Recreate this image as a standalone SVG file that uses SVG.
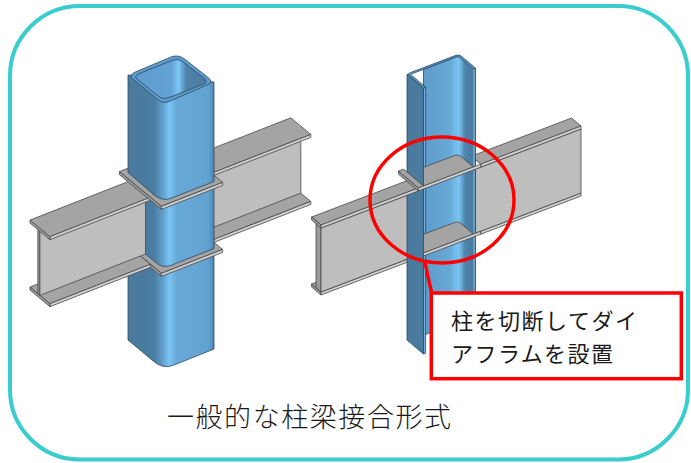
<svg xmlns="http://www.w3.org/2000/svg" width="691" height="463" viewBox="0 0 691 463">
  <defs>
    <!-- shading across the square tube: dark left face, lit rounded corner, mid front face -->
    <linearGradient id="tubeL" gradientUnits="userSpaceOnUse" x1="128" y1="0" x2="214" y2="0">
      <stop offset="0" stop-color="#4a7a9e"/>
      <stop offset="0.3" stop-color="#4b7ca1"/>
      <stop offset="0.4" stop-color="#5f9ecb"/>
      <stop offset="0.48" stop-color="#7ac4f3"/>
      <stop offset="0.57" stop-color="#67a9d8"/>
      <stop offset="0.93" stop-color="#63a3d1"/>
      <stop offset="1" stop-color="#4e86b0"/>
    </linearGradient>
    <linearGradient id="boreL" gradientUnits="userSpaceOnUse" x1="133" y1="0" x2="209" y2="0">
      <stop offset="0" stop-color="#5d9bcb"/>
      <stop offset="0.5" stop-color="#63a3d3"/>
      <stop offset="0.6" stop-color="#7dc8f5"/>
      <stop offset="0.7" stop-color="#4e82aa"/>
      <stop offset="1" stop-color="#4a7a9e"/>
    </linearGradient>
    <linearGradient id="boreR" gradientUnits="userSpaceOnUse" x1="423.5" y1="0" x2="475.5" y2="0">
      <stop offset="0" stop-color="#5f9dcb"/>
      <stop offset="0.5" stop-color="#66a8d6"/>
      <stop offset="0.68" stop-color="#7bc6f4"/>
      <stop offset="0.8" stop-color="#4f84ac"/>
      <stop offset="0.955" stop-color="#4a7a9e"/>
      <stop offset="0.965" stop-color="#74b0da"/>
      <stop offset="1" stop-color="#5b93be"/>
    </linearGradient>
  </defs>
  <style>
    .o{stroke:#464646;stroke-width:0.8;stroke-linejoin:round}
    .tf{fill:#a4a4a4}
    .ed{fill:#d0d0d0}
    .en{fill:#9c9c9c}
    .wb{fill:#bebebe}
    .st{stroke:#2b465e;stroke-width:0.8;stroke-linejoin:round}
    .tube{fill:url(#tubeL)}
    .rim{fill:#5e9ccb}
    .dk{fill:#4a7a9e}
    .cutb{fill:#78b2dc}
    .red{fill:none;stroke:#ff0000;stroke-width:3.5}
    .cap{font-family:"Noto Sans CJK JP","Noto Sans CJK SC",sans-serif;fill:#1a1a1a}
  </style>

  <rect id="frame" x="10" y="6" width="678" height="453.5" rx="70" ry="70" fill="#ffffff" stroke="#3accce" stroke-width="4"/>

  <!-- ordinary joint: square tube column with through diaphragms -->
  <g id="joint-general">
    <!-- far side beam pieces -->
    <polygon class="tf o" points="191.6,223.7 290.8,184.8 310.8,201.4 211.6,240.3"/>
    <polygon class="ed o" points="211.6,240.3 310.8,201.4 310.8,204.4 211.6,243.3"/>
    <polygon class="wb o" points="196.5,170 300.8,129.1 300.8,193.1 196.5,234"/>
    <polygon class="tf o" points="191.6,156.7 290.8,117.8 310.8,134.4 211.6,173.3"/>
    <polygon class="ed o" points="211.6,173.3 310.8,134.4 310.8,137.4 211.6,176.3"/>
    <!-- lower column piece -->
    <path class="tube st" d="M128,242.5 L179,222 L214,251.5 L214,349 L174,365 Q163,370 152,360 L128,340 Z"/>
    <!-- lower diaphragm -->
    <polygon class="tf o" points="119.4,238.6 180.6,214.6 222.6,249.4 161.4,273.4"/>
    <polygon class="en o" points="119.4,238.6 161.4,273.4 161.4,276.4 119.4,241.6"/>
    <polygon class="ed o" points="161.4,273.4 222.6,249.4 222.6,252.4 161.4,276.4"/>
    <!-- column piece between diaphragms -->
    <path class="tube st" d="M128,172 L179,152 L214,181 L214,248.5 L171.2,265.3 Q163,268.5 156,262.7 L128,239.5 Z"/>
    <!-- near side beam pieces -->
    <polygon class="tf o" points="30,287.1 130.4,247.7 150.4,264.3 49.9,303.7"/>
    <polygon class="ed o" points="49.9,303.7 150.4,264.3 150.4,267.3 49.9,306.7"/>
    <polygon class="en o" points="30,287.1 49.9,303.7 49.9,306.7 30,290.1"/>
    <polygon class="en o" points="37.8,229.6 39.9,231.4 39.9,295.4 37.8,293.6"/>
    <polygon class="wb o" points="39.9,231.4 145.5,190 145.5,254 39.9,295.4"/>
    <polygon class="tf o" points="30,220.1 130.4,180.7 150.4,197.3 49.9,236.7"/>
    <polygon class="ed o" points="49.9,236.7 150.4,197.3 150.4,200.3 49.9,239.7"/>
    <polygon class="en o" points="30,220.1 49.9,236.7 49.9,239.7 30,223.1"/>
    <!-- upper diaphragm -->
    <polygon class="tf o" points="119.4,171.6 180.6,147.6 222.6,182.4 161.4,206.4"/>
    <polygon class="en o" points="119.4,171.6 161.4,206.4 161.4,209.4 119.4,174.6"/>
    <polygon class="ed o" points="161.4,206.4 222.6,182.4 222.6,185.4 161.4,209.4"/>
    <!-- upper column piece and open top -->
    <path class="tube st" d="M128,75 L128,172.5 L155,195.7 Q163,201.5 171,198.3 L214,181.5 L214,82 Z"/>
    <path class="rim st" d="M135.5,71.9 L170.5,57.2 Q178,54 184.5,59 L207.5,77 Q214,82 207.9,84.6 L169.1,101.4 Q163,104 157.8,99.7 L133.3,79.4 Q128,75 135.5,71.9 Z"/>
    <path fill="url(#boreL)" class="st" d="M139.8,73.3 L171.3,60.7 Q178,58 183.6,62.3 L203.4,77.7 Q209,82 203.5,84.2 L168.5,97.8 Q163,100 158.5,96.4 L137.5,79.6 Q133,76 139.8,73.3 Z"/>
  </g>

  <!-- cut-away joint: column cut open to show the diaphragms -->
  <g id="joint-cutaway">
    <!-- far side beam pieces -->
    <polygon class="ed o" points="480.7,231.2 581,193 581,196 480.7,234.2"/>
    <polygon class="wb o" points="475.5,169.2 581,129 581,193 475.5,233.2"/>
    <polygon class="tf o" points="471.3,156.2 571.6,118 581,126 480.7,164.2"/>
    <polygon class="ed o" points="480.7,164.2 581,126 581,129 480.7,167.2"/>
    <!-- near side beam: lower flange and web -->
    <polygon class="en o" points="311.6,284 321,292 321,295 311.6,287"/>
    <polygon class="tf o" points="311.6,284 408.9,247 418.3,255 321,292"/>
    <polygon class="ed o" points="321,292 418.3,255 418.3,258 321,295"/>
    <polygon class="en o" points="316,223.8 321,228 321,292 316,287.8"/>
    <polygon class="wb o" points="321,228 423.5,189 423.5,253 321,292"/>
    <!-- column shell -->
    <polygon fill="url(#boreR)" class="st" points="423.5,69.3 458.2,56.1 475.5,68.2 475.5,336.2 473.4,337 458.2,322.1 423.5,335.3"/>
    <polygon class="dk st" points="407,74 423.5,88 423.5,354 407,340"/>
    <polygon class="cutb st" points="423.5,88 425.6,87.2 425.6,353.2 423.5,354"/>
    <path class="rim st" d="M423.5,88 L409,75.5 Q407,74 409.5,73 L456,55.3 Q459,54.2 461.5,56.3 L475.5,68.2 L473.4,69 L460.2,57.8 Q458.2,56.1 455.9,57 L412.4,73.6 Q410.4,74.3 412,75.7 L425.6,87.2 Z"/>
    <!-- diaphragms inside the column -->
    <path class="tf o" d="M423.5,167.3 L455,155.4 Q458.2,154.1 461,156.5 L473.4,167 L423.5,186 Z"/>
    <path class="tf o" d="M423.5,234.3 L455,222.4 Q458.2,221.1 461,223.5 L473.4,234 L423.5,253 Z"/>
    <polygon class="ed o" points="423.5,253 480.7,231.2 480.7,234.2 423.5,256"/>
    <!-- near side beam: upper flange and diaphragm overhang -->
    <polygon class="tf o" points="311.6,217 408.9,180 418.3,188 321,225"/>
    <polygon class="en o" points="311.6,217 321,225 321,228 311.6,220"/>
    <polygon class="ed o" points="321,225 418.3,188 418.3,191 321,228"/>
    <polygon class="tf o" points="398.5,171.2 403.7,169.2 423.5,186 418.3,188"/>
    <polygon class="en o" points="398.5,171.2 418.3,188 418.3,191 398.5,174.2"/>
    <polygon class="ed o" points="418.3,188 480.7,164.2 480.7,167.2 418.3,191"/>
  </g>

  <!-- highlight ring and callout -->
  <g id="callout">
    <ellipse class="red" cx="442" cy="200" rx="72" ry="63"/>
    <path class="red" stroke-width="3" d="M425,262 Q428,278 431.5,292"/>
    <rect x="431.3" y="293" width="250" height="85.7" fill="#ffffff" stroke="#ff0000" stroke-width="3.5"/>
    <text class="cap" x="451" y="329" font-size="22" textLength="186" lengthAdjust="spacing">柱を切断してダイ</text>
    <text class="cap" x="451" y="361.5" font-size="22" textLength="162" lengthAdjust="spacing">アフラムを設置</text>
  </g>

  <text id="caption" class="cap" x="167" y="427" font-size="27" font-weight="300" textLength="284" lengthAdjust="spacing">一般的な柱梁接合形式</text>
</svg>
